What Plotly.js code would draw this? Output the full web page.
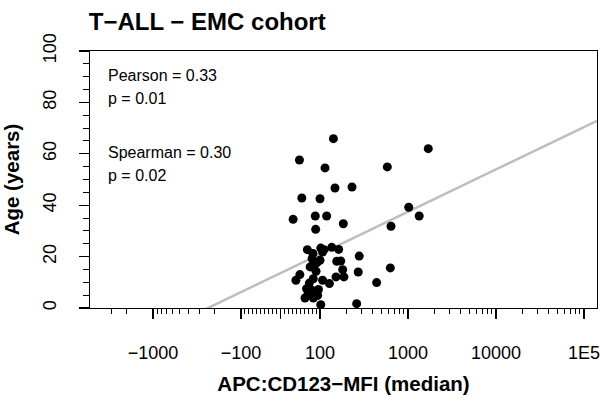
<!DOCTYPE html>
<html>
<head>
<meta charset="utf-8">
<script src="https://cdn.plot.ly/plotly-3.0.1.min.js"></script>
<style>html,body{margin:0;padding:0;background:#fff;}#chart{width:600px;height:395px;}</style>
</head>
<body>
<div id="chart"></div>
<script>
// CD123 median MFI (APC) per patient
const mfi = [142, 48, 114, 582, 148, 231, 54, 100, 32, 88, 119, 184, 89, 1019, 1340, 1700,
  641, 68, 82, 102, 111, 136, 163, 279, 100, 82, 92, 155, 172, 75, 90, 181, 272, 630,
  49, 39, 83, 107, 128, 152, 187, 440, 66, 79, 96, 62, 83, 94, 102, 261, 70, 107, 80, 73];
// Age (years)
const age = [65.9, 57.6, 54.5, 54.9, 46.7, 47.1, 42.8, 42.5, 34.5, 35.8, 35.8, 32.8, 30.6, 39.2, 35.8, 62.0,
  31.8, 22.7, 21.2, 23.3, 22.7, 23.6, 22.8, 20.2, 18.6, 16.9, 17.6, 18.2, 18.3, 16.0, 14.3, 14.9, 14.0, 15.6,
  13.0, 10.8, 11.4, 10.8, 9.5, 12.1, 12.1, 9.9, 7.5, 6.9, 7.2, 3.9, 3.9, 4.9, 1.3, 1.7, 5.6, 21.8, 19.2, 9.7];

const majorTickValues = [-1000, -100, 0, 100, 1000, 10000, 100000];
const majorTickLabels = ["\u22121000", "\u2212100", "", "100", "1000", "10000", "1E5"];
const minorTickValues = [-3000, -2000,
  -900, -800, -700, -600, -500, -400, -300, -200,
  -90, -80, -70, -60, -50, -40, -30, -20, -10,
  10, 20, 30, 40, 50, 60, 70, 80, 90,
  200, 300, 400, 500, 600, 700, 800, 900,
  2000, 3000, 4000, 5000, 6000, 7000, 8000, 9000,
  20000, 30000, 40000, 50000, 60000, 70000, 80000, 90000];
const yTickValues = [0, 20, 40, 60, 80, 100];

const statsLabels = ["Pearson = 0.33", "p = 0.01", "Spearman = 0.30", "p = 0.02"];
// fitted line: age = intercept + slope * T(MFI)
const fitIntercept = 13.57;
const fitSlope = 16.47;

// biexponential-like display transform
const LIN = 100, LINW = 0.449;
function T(v){
  const a = Math.abs(v);
  if (a <= LIN) return v / LIN * LINW;
  return Math.sign(v) * (LINW + Math.log10(a / LIN));
}

const xRange = [-2.165, 3.597];
const fitX = [xRange[0], xRange[1]];
const fitY = fitX.map(u => fitIntercept + fitSlope * u);

const font = "Liberation Sans, Arial, Helvetica, sans-serif";

const traces = [
  {x: fitX, y: fitY, mode: 'lines', line: {color: '#bebebe', width: 2.5}, hoverinfo: 'skip'},
  {x: mfi.map(T), y: age, mode: 'markers', marker: {color: '#000', size: 9}}
];

// plot area: top 51px, bottom 308px -> annotation positions in paper units
const PT = 51, PB = 308;
const statY = [75, 98, 152, 175];
const annotations = statsLabels.map((t, i) => ({
  text: t, xref: 'paper', yref: 'paper', x: 0.031, y: (PB - statY[i]) / (PB - PT),
  xanchor: 'left', yanchor: 'middle', align: 'left', showarrow: false,
  font: {family: font, size: 16, color: '#000'}
}));

const layout = {
  width: 600, height: 395,
  margin: {l: 90, r: 3, t: PT, b: 395 - PB, pad: 0},
  paper_bgcolor: '#fff', plot_bgcolor: '#fff',
  showlegend: false,
  font: {family: font, color: '#000'},
  title: {text: "<b>T\u2212ALL \u2212 EMC cohort</b>", font: {family: font, size: 24, color: '#000'},
    xref: 'container', yref: 'container', x: 0.148, xanchor: 'left', y: 0.946, yanchor: 'middle'},
  xaxis: {
    range: xRange, showgrid: false, zeroline: false,
    showline: true, mirror: true, linecolor: '#000', linewidth: 1.2,
    tickmode: 'array', tickvals: majorTickValues.map(T), ticktext: majorTickLabels,
    ticks: 'outside', ticklen: 10, tickwidth: 1.2, tickcolor: '#000', ticklabelstandoff: 18,
    tickfont: {family: font, size: 18, color: '#000'},
    minor: {tickmode: 'array', tickvals: minorTickValues.map(T), ticks: 'outside', ticklen: 5, tickwidth: 1, tickcolor: '#000', showgrid: false},
    title: {text: "<b>APC:CD123\u2212MFI (median)</b>", font: {family: font, size: 20.5, color: '#000'}, standoff: 20}
  },
  yaxis: {
    range: [0, 100], showgrid: false, zeroline: false,
    showline: true, mirror: true, linecolor: '#000', linewidth: 1.2,
    tickmode: 'array', tickvals: yTickValues,
    ticks: 'outside', ticklen: 10, tickwidth: 1.2, tickcolor: '#000', tickangle: -90, ticklabelstandoff: 16,
    tickfont: {family: font, size: 18, color: '#000'},
    minor: {dtick: 5, tick0: 0, ticks: 'outside', ticklen: 6, tickwidth: 1, tickcolor: '#000', showgrid: false},
    title: {text: "<b>Age (years)</b>", font: {family: font, size: 20.5, color: '#000'}, standoff: 16}
  },
  annotations: annotations
};

Plotly.newPlot('chart', traces, layout, {displayModeBar: false, staticPlot: true});
</script>
</body>
</html>
